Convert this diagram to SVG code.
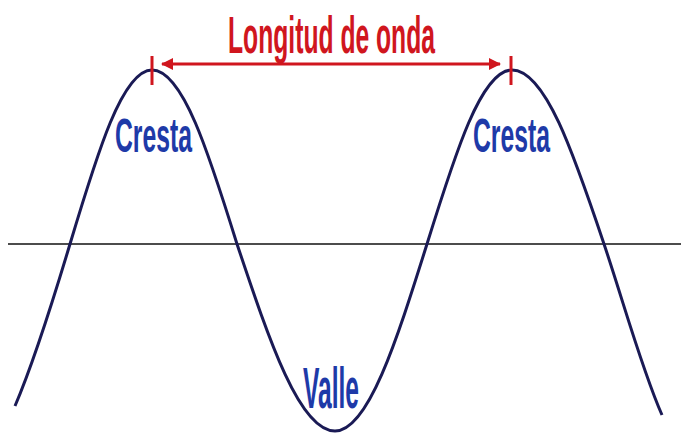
<svg xmlns="http://www.w3.org/2000/svg" width="681" height="433" viewBox="0 0 681 433">
<defs>
<marker id="ah" viewBox="0 0 12 12" refX="11" refY="6" markerWidth="12" markerHeight="12" markerUnits="userSpaceOnUse" orient="auto-start-reverse">
<path d="M0,0 L12,6 L0,12 Z" fill="#d0161e"/>
</marker>
<style>
.lbl{font-family:"Liberation Sans","DejaVu Sans",sans-serif;font-weight:bold}
.red{fill:#d0161e}
.blue{fill:#1e3aa8}
.tick{stroke:#d0161e;stroke-width:3}
</style>
</defs>
<rect width="681" height="433" fill="#ffffff"/>
<g id="axis">
<line x1="8" y1="244" x2="681" y2="244" stroke="#111" stroke-width="1.6"/>
</g>
<g id="wave">
<path d="M15,406 C30,371 52,304 70,244 C97.4,152.6 122.5,70 152,70 C182.6,70 208.6,152.6 237,244 C269.7,341.7 299.7,431 335,431 C368.1,431 396.3,341.7 427,244 C455.4,152.6 481.4,70 512,70 C545.1,70 573.3,152.6 604,244 C624,303.5 642,370 662,415" fill="none" stroke="#1a1a55" stroke-width="3"/>
</g>
<g id="connectors">
<line x1="162" y1="64" x2="500" y2="64" stroke="#d0161e" stroke-width="3" marker-start="url(#ah)" marker-end="url(#ah)"/>
<line class="tick" x1="152" y1="56" x2="152" y2="85"/>
<line class="tick" x1="511" y1="56" x2="511" y2="85"/>
</g>
<g id="title">
<text class="lbl red" x="228" y="53" font-size="52" textLength="207" lengthAdjust="spacingAndGlyphs">Longitud de onda</text>
</g>
<g id="cresta1">
<text class="lbl blue" x="115" y="152" font-size="49" textLength="77" lengthAdjust="spacingAndGlyphs">Cresta</text>
</g>
<g id="cresta2">
<text class="lbl blue" x="473" y="152" font-size="49" textLength="77" lengthAdjust="spacingAndGlyphs">Cresta</text>
</g>
<g id="valle">
<text class="lbl blue" x="303" y="408" font-size="58" textLength="56" lengthAdjust="spacingAndGlyphs">Valle</text>
</g>
</svg>
